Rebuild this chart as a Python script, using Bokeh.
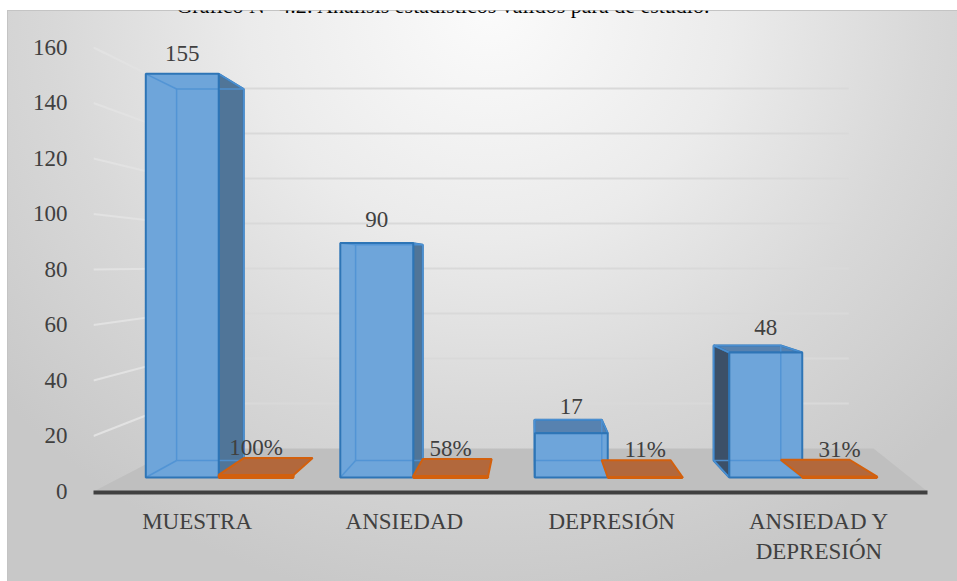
import numpy as np
from bokeh.plotting import figure
from bokeh.models import Range1d, FixedTicker, Label
from bokeh.embed import file_html
from bokeh.resources import INLINE
from bokeh.core.properties import value

# ---- data -------------------------------------------------------------
categories = ["MUESTRA", "ANSIEDAD", "DEPRESIÓN", "ANSIEDAD Y\nDEPRESIÓN"]
counts = [155, 90, 17, 48]
shares = [1.00, 0.58, 0.11, 0.31]
y_ticks = [0, 20, 40, 60, 80, 100, 120, 140, 160]
title_text = "Gráfico N° 4.2: Análisis estadísticos válidos para de estudio."

# ---- perspective set-up (in data units) ------------------------------
VX, VY = 2.618, 81.98            # vanishing point
S_FRONT, S_BACK = 0.9385, 0.8637  # depth scale of bar front / back faces
S_WALL = 0.811                    # back wall
S_LABEL = 0.922                   # depth where data labels sit
LABEL_LIFT = 8.5                  # label offset above bar top (value units)
BLUE_SPAN = (-0.37, 0.005)        # series 1 extent around category centre
ORANGE_SPAN = (0.005, 0.39)       # series 2 extent around category centre
FONT = "Liberation Serif"
TXT = "#404040"


def proj(x, y, s):
    x = np.asarray(x, dtype=float)
    y = np.asarray(y, dtype=float)
    return (VX + s * (x - VX)).tolist(), (VY + s * (y - VY)).tolist()


def face(pts):
    xs, ys = [], []
    for (x, y, s) in pts:
        a, b = proj(x, y, s)
        xs.append(a)
        ys.append(b)
    return xs, ys


p = figure(width=957, height=581,
           x_range=Range1d(0.5, 4.524), y_range=Range1d(-0.36, 173.33),
           output_backend="svg", toolbar_location=None,
           min_border_left=93, min_border_right=30,
           min_border_top=10, min_border_bottom=89)
p.xgrid.visible = False
p.ygrid.visible = False
p.outline_line_color = None
p.background_fill_alpha = 0
p.border_fill_alpha = 0
p.styles = {
    "background": (
        "linear-gradient(#c4c4c4,#c4c4c4) 7px 10px / 100% 1px no-repeat, "
        "linear-gradient(#c4c4c4,#c4c4c4) 7px 10px / 1px 100% no-repeat, "
        "linear-gradient(#ffffff,#ffffff) 0 0 / 100% 10px no-repeat, "
        "linear-gradient(#ffffff,#ffffff) 0 0 / 7px 100% no-repeat, "
        "radial-gradient(ellipse 640px 600px at 490px 10px, "
        "#fbfbfb 0%, #ebebeb 38%, #d8d8d8 68%, #c8c8c8 100%)"
    )
}

# axes
p.yaxis.ticker = FixedTicker(ticks=y_ticks)
p.yaxis.axis_line_color = None
p.yaxis.major_tick_line_color = None
p.yaxis.minor_tick_line_color = None
p.yaxis.major_label_standoff = 20
p.yaxis.major_label_text_font = FONT
p.yaxis.major_label_text_font_size = "23px"
p.yaxis.major_label_text_color = TXT

p.xaxis.ticker = FixedTicker(ticks=[1, 2, 3, 4])
p.xaxis.major_label_overrides = {i + 1: c for i, c in enumerate(categories)}
p.xaxis.axis_line_color = "#404040"
p.xaxis.axis_line_width = 4
p.xaxis.major_tick_line_color = None
p.xaxis.minor_tick_line_color = None
p.xaxis.major_label_standoff = 10
p.xaxis.major_label_text_font = FONT
p.xaxis.major_label_text_font_size = "23px"
p.xaxis.major_label_text_color = TXT

# floor
fx, fy = face([(0.5, 0, 1.0), (0.5, 0, S_WALL), (4.647, 0, S_WALL), (4.524, 0, 1.0)])
p.patch(fx, fy, fill_color="#bfbfbf", line_color=None)

# back wall gridlines
gx, gy = [], []
for v in y_ticks[1:]:
    a, b = proj([0.5, 4.5], [v, v], S_WALL)
    gx.append(a)
    gy.append(b)
p.multi_line(gx, gy, line_color="#d9d9d9", line_width=2)

# side wall gridlines
lx, ly = [], []
for v in y_ticks[1:]:
    a, b = proj([0.5], [v], S_WALL)
    lx.append([0.5, a[0]])
    ly.append([v, b[0]])
p.multi_line(lx, ly, line_color="#e2e2e2", line_width=2)

# ---- series 1: counts as translucent boxes ----------------------------
side_xs, side_ys, side_col = [], [], []
top_xs, top_ys = [], []
front_xs, front_ys = [], []
inner_xs, inner_ys = [], []
lab_x, lab_y, lab_t = [], [], []
for i, h in enumerate(counts):
    c = i + 1
    x0, x1 = c + BLUE_SPAN[0], c + BLUE_SPAN[1]
    if x1 < VX:
        a, b = face([(x1, 0, S_FRONT), (x1, 0, S_BACK), (x1, h, S_BACK), (x1, h, S_FRONT)])
        side_xs.append(a); side_ys.append(b); side_col.append("#507598")
    if x0 > VX:
        a, b = face([(x0, 0, S_FRONT), (x0, 0, S_BACK), (x0, h, S_BACK), (x0, h, S_FRONT)])
        side_xs.append(a); side_ys.append(b); side_col.append("#3c5068")
    if h < VY:
        a, b = face([(x0, h, S_FRONT), (x1, h, S_FRONT), (x1, h, S_BACK), (x0, h, S_BACK)])
        top_xs.append(a); top_ys.append(b)
    a, b = face([(x0, 0, S_FRONT), (x1, 0, S_FRONT), (x1, h, S_FRONT), (x0, h, S_FRONT)])
    front_xs.append(a); front_ys.append(b)
    # hidden edges seen through the face
    a, b = face([(x0, 0, S_BACK), (x1, 0, S_BACK), (x1, h, S_BACK), (x0, h, S_BACK), (x0, 0, S_BACK)])
    inner_xs.append(a); inner_ys.append(b)
    for (xx, yy) in [(x0, 0), (x1, 0), (x0, h), (x1, h)]:
        a, b = face([(xx, yy, S_FRONT), (xx, yy, S_BACK)])
        inner_xs.append(a); inner_ys.append(b)
    cx = (x0 + x1) / 2
    a, _ = proj([cx], [h], S_FRONT)
    _, b = proj([cx], [h], S_LABEL)
    lab_x.append(a[0]); lab_y.append(b[0] + LABEL_LIFT); lab_t.append(str(h))

p.patches(side_xs, side_ys, fill_color=side_col, line_color="#2e75b6", line_width=2)
p.patches(top_xs, top_ys, fill_color="#5782b0", line_color="#2e75b6", line_width=2)
p.patches(front_xs, front_ys, fill_color="#6ea5da", line_color=None)
p.multi_line(inner_xs, inner_ys, line_color="#4f92d4", line_width=1.5, line_alpha=0.9)
p.patches(front_xs, front_ys, fill_color=None, line_color="#2e75b6", line_width=2)
p.text(lab_x, lab_y, text=lab_t, text_font=value(FONT), text_font_size="23px",
       text_color=TXT, text_align="center", text_baseline="middle")

# ---- series 2: shares as thin slabs -----------------------------------
o_xs, o_ys = [], []
ob_xs, ob_ys = [], []
olab_x, olab_y, olab_t = [], [], []
for i, h in enumerate(shares):
    c = i + 1
    x0, x1 = c + ORANGE_SPAN[0], c + ORANGE_SPAN[1]
    a, b = face([(x0, h, S_FRONT), (x1, h, S_FRONT), (x1, h, S_BACK), (x0, h, S_BACK)])
    o_xs.append(a); o_ys.append(b)
    a, b = face([(x0, 0, S_FRONT), (x1, 0, S_FRONT), (x1, h, S_FRONT), (x0, h, S_FRONT)])
    o_xs.append(a); o_ys.append(b)
    a, b = face([(x0, 0, S_FRONT), (x1, 0, S_FRONT)])
    ob_xs.append(a); ob_ys.append(b)
    cx = (x0 + x1) / 2
    a, _ = proj([cx], [h], S_FRONT)
    _, b = proj([cx], [h], S_LABEL)
    olab_x.append(a[0]); olab_y.append(b[0] + LABEL_LIFT)
    olab_t.append(f"{round(h * 100)}%")

p.patches(o_xs, o_ys, fill_color="#b2683c", line_color="#d3600d", line_width=2)
p.multi_line(ob_xs, ob_ys, line_color="#d3600d", line_width=3)
p.text(olab_x, olab_y, text=olab_t, text_font=value(FONT), text_font_size="23px",
       text_color=TXT, text_align="center", text_baseline="middle")

# heading above the chart box (its upper part runs past the page top)
p.add_layout(Label(x=2.189, y=175.0, text=title_text, text_align="center",
                   text_baseline="alphabetic", text_font=FONT,
                   text_font_size="22px", text_color="black"))

open("out.html", "w").write(file_html(p, INLINE))
